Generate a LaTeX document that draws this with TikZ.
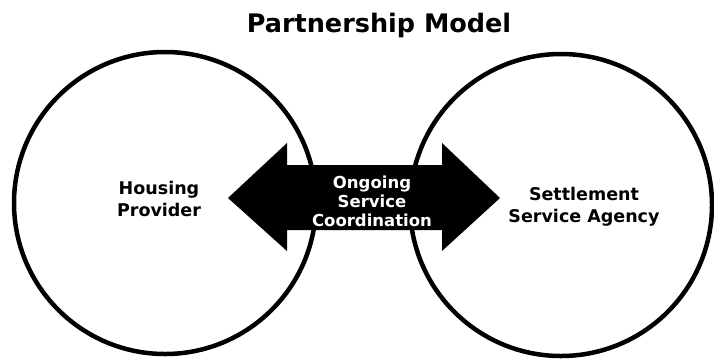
\documentclass[tikz,border=0pt]{standalone}
\usepackage{fontspec}
\setmainfont{DejaVu Sans}
\tikzset{
  partner/.style={circle, draw, line width=4.5pt, minimum size=302pt, inner sep=0pt},
  label text/.style={font=\bfseries\fontsize{17.5}{22}\selectfont, align=center},
  coord text/.style={font=\bfseries\fontsize{16.5}{19}\selectfont, align=center, text=white}
}
\begin{document}
\begin{tikzpicture}[x=1pt, y=-1pt]
\useasboundingbox (0, 0) rectangle (714, 360);
\node[font=\bfseries\fontsize{25.5}{28}\selectfont] (title) at (379, 25) {Partnership Model};

\node[partner] (housing) at (165, 203) {};
\node[partner] (agency) at (561, 205) {};
\node[label text] (hlabel) at (159, 199) {Housing\\Provider};
\node[label text] (alabel) at (584, 207) {Settlement\\Service Agency};

% two-headed arrow between the partners
\fill (228, 198) -- (287, 143) -- (287, 165) -- (442, 165) -- (442, 143)
  -- (500, 198) -- (442, 251) -- (442, 230) -- (287, 230) -- (287, 251) -- cycle;
\node[coord text] (coord) at (372, 201) {Ongoing\\Service\\Coordination};
\end{tikzpicture}
\end{document}
